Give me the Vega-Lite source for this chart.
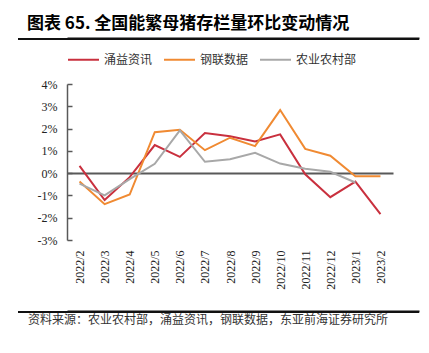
{
  "$schema": "https://vega.github.io/schema/vega-lite/v6.json",
  "padding": {"left": 17, "right": 11, "top": 15, "bottom": 0},
  "title": {"text": "图表 65. 全国能繁母猪存栏量环比变动情况", "anchor": "start", "dx": 10, "font": "Noto Sans CJK SC", "fontSize": 17, "fontWeight": "bold", "color": "#000000", "offset": 5},
  "columns": 1,
  "spacing": 3,
  "resolve": {"scale": {"x": "independent", "y": "independent", "color": "independent"}, "axis": {"x": "independent", "y": "independent"}, "legend": {"color": "independent"}},
  "config": {"view": {"stroke": null}, "axis": {"labelOverlap": false}},
  "concat": [
    {
      "width": 352,
      "height": 2,
      "data": {"values": [{"x0": -49, "x1": 352}]},
      "mark": {"type": "rect", "fill": "#111111", "opacity": 1},
      "encoding": {
        "x": {"field": "x0", "type": "quantitative", "scale": {"domain": [0, 352], "nice": false, "zero": false}, "axis": {"orient": "top", "title": null, "domain": true, "domainColor": "#111111", "domainWidth": 2, "labels": false, "ticks": false, "grid": false}},
        "x2": {"field": "x1"},
        "y": {"datum": 0, "type": "quantitative", "scale": {"domain": [0, 2], "nice": false}, "axis": null},
        "y2": {"datum": 2}
      }
    },
    {
      "width": 326,
      "height": 156,
      "data": {"values": [
        {"m": "2022/2", "s": "涌益资讯", "v": 0.33},
        {"m": "2022/3", "s": "涌益资讯", "v": -1.21},
        {"m": "2022/4", "s": "涌益资讯", "v": -0.18},
        {"m": "2022/5", "s": "涌益资讯", "v": 1.26},
        {"m": "2022/6", "s": "涌益资讯", "v": 0.73},
        {"m": "2022/7", "s": "涌益资讯", "v": 1.8},
        {"m": "2022/8", "s": "涌益资讯", "v": 1.66},
        {"m": "2022/9", "s": "涌益资讯", "v": 1.42},
        {"m": "2022/10", "s": "涌益资讯", "v": 1.74},
        {"m": "2022/11", "s": "涌益资讯", "v": -0.05},
        {"m": "2022/12", "s": "涌益资讯", "v": -1.08},
        {"m": "2023/1", "s": "涌益资讯", "v": -0.38},
        {"m": "2023/2", "s": "涌益资讯", "v": -1.84},
        {"m": "2022/2", "s": "钢联数据", "v": -0.38},
        {"m": "2022/3", "s": "钢联数据", "v": -1.39},
        {"m": "2022/4", "s": "钢联数据", "v": -0.96},
        {"m": "2022/5", "s": "钢联数据", "v": 1.84},
        {"m": "2022/6", "s": "钢联数据", "v": 1.95},
        {"m": "2022/7", "s": "钢联数据", "v": 1.03},
        {"m": "2022/8", "s": "钢联数据", "v": 1.59},
        {"m": "2022/9", "s": "钢联数据", "v": 1.21},
        {"m": "2022/10", "s": "钢联数据", "v": 2.83},
        {"m": "2022/11", "s": "钢联数据", "v": 1.09},
        {"m": "2022/12", "s": "钢联数据", "v": 0.78},
        {"m": "2023/1", "s": "钢联数据", "v": -0.14},
        {"m": "2023/2", "s": "钢联数据", "v": -0.14},
        {"m": "2022/2", "s": "农业农村部", "v": -0.47},
        {"m": "2022/3", "s": "农业农村部", "v": -1.0},
        {"m": "2022/4", "s": "农业农村部", "v": -0.27},
        {"m": "2022/5", "s": "农业农村部", "v": 0.42},
        {"m": "2022/6", "s": "农业农村部", "v": 1.92},
        {"m": "2022/7", "s": "农业农村部", "v": 0.51},
        {"m": "2022/8", "s": "农业农村部", "v": 0.62},
        {"m": "2022/9", "s": "农业农村部", "v": 0.91},
        {"m": "2022/10", "s": "农业农村部", "v": 0.43},
        {"m": "2022/11", "s": "农业农村部", "v": 0.2},
        {"m": "2022/12", "s": "农业农村部", "v": 0.06},
        {"m": "2023/1", "s": "农业农村部", "v": -0.42}
      ]},
      "mark": {"type": "line", "strokeWidth": 2},
      "encoding": {
        "x": {
          "field": "m", "type": "ordinal", "sort": null,
          "scale": {"type": "point", "padding": 0.5},
          "axis": {"title": null, "labelAngle": -90, "labelFont": "Liberation Serif", "labelFontSize": 12, "labelColor": "#222222", "labelPadding": 10, "ticks": false, "domain": false, "grid": false, "minExtent": 68}
        },
        "y": {
          "field": "v", "type": "quantitative",
          "scale": {"domain": [-3, 4], "nice": false},
          "axis": {"title": null, "values": [-3, -2, -1, 0, 1, 2, 3, 4], "labelExpr": "datum.value + '%'", "labelOverlap": false, "labelFont": "Liberation Serif", "labelFontSize": 12, "labelColor": "#222222", "grid": true, "gridColor": {"condition": {"test": "datum.value === 0", "value": "#595959"}, "value": "transparent"}, "gridWidth": 2, "domainColor": "#595959", "domainWidth": 1.5, "tickColor": "#595959", "tickWidth": 1.5, "tickSize": -5, "labelPadding": 15, "minExtent": 50}
        },
        "color": {
          "field": "s", "type": "nominal",
          "scale": {"domain": ["涌益资讯", "钢联数据", "农业农村部"], "range": ["#C9303E", "#F08A32", "#A8A8A8"]},
          "legend": {"orient": "top", "title": null, "direction": "horizontal", "symbolType": "stroke", "symbolSize": 961, "symbolStrokeWidth": 2, "labelFont": "Noto Sans CJK SC", "labelFontSize": 12, "labelColor": "#333333", "labelOffset": 4, "columnPadding": 7, "offset": 18, "padding": 0}
        }
      }
    },
    {
      "width": 352,
      "height": 14,
      "data": {"values": [{"x0": -49, "x1": 352, "t": "资料来源：农业农村部，涌益资讯，钢联数据，东亚前海证券研究所"}]},
      "layer": [
        {
          "mark": {"type": "rect", "fill": "#111111", "opacity": 1},
          "encoding": {
            "x": {"field": "x0", "type": "quantitative", "scale": {"domain": [0, 352], "nice": false, "zero": false}, "axis": {"orient": "top", "title": null, "domain": true, "domainColor": "#111111", "domainWidth": 2, "labels": false, "ticks": false, "grid": false}},
            "x2": {"field": "x1"},
            "y": {"datum": 14, "type": "quantitative", "scale": {"domain": [0, 14], "nice": false}, "axis": null},
            "y2": {"datum": 12}
          }
        },
        {
          "mark": {"type": "text", "align": "left", "baseline": "middle", "dx": 10, "font": "Noto Sans CJK SC", "fontSize": 12, "color": "#333333"},
          "encoding": {
            "text": {"field": "t"},
            "x": {"field": "x0", "type": "quantitative"},
            "y": {"datum": 5, "type": "quantitative"}
          }
        }
      ]
    }
  ]
}
